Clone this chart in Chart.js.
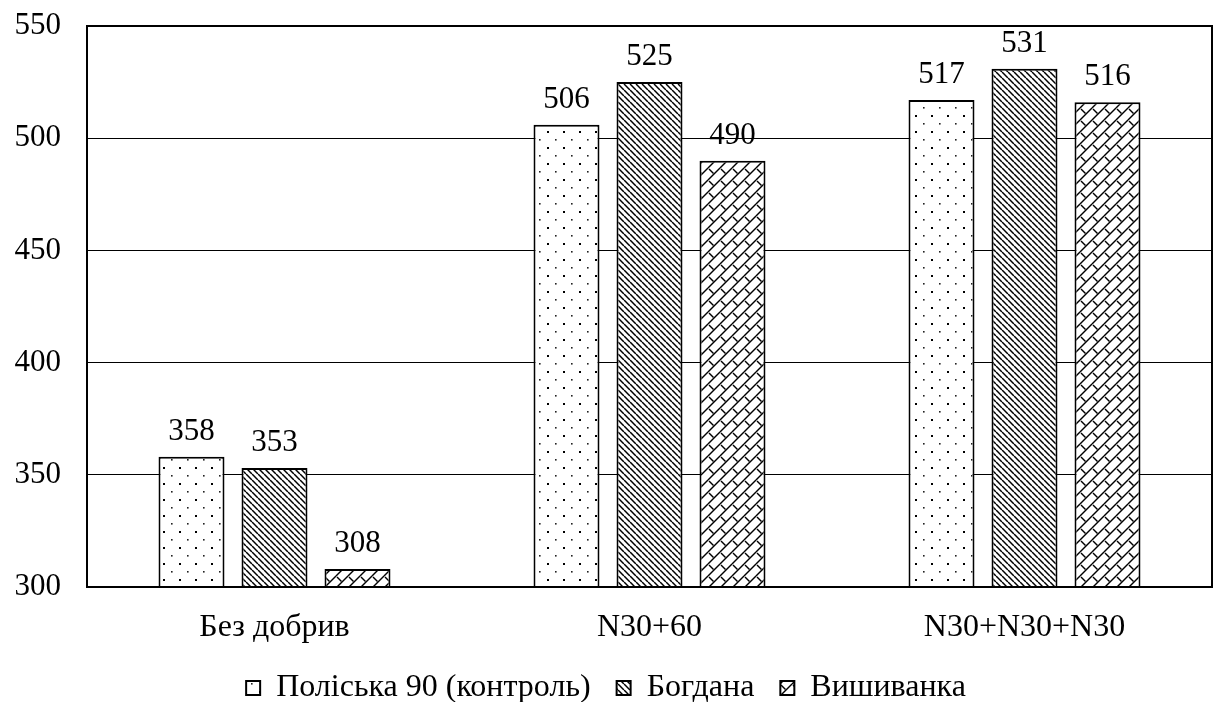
<!DOCTYPE html>
<html>
<head>
<meta charset="utf-8">
<script src="https://cdn.jsdelivr.net/npm/chart.js@4.4.1/dist/chart.umd.min.js"></script>
<style>
  html, body { margin: 0; padding: 0; background: #fff; }
  #wrap { width: 1214px; height: 702px; }
</style>
</head>
<body>
<div id="wrap"><canvas id="chart" width="1214" height="702"></canvas></div>
<script>
// Yield by fertiliser treatment for three varieties
const categories = ['Без добрив', 'N30+60', 'N30+N30+N30'];
const seriesNames = ['Поліська 90 (контроль)', 'Богдана', 'Вишиванка'];
const polisska90 = [358, 506, 517];
const bohdana = [353, 525, 531];
const vyshyvanka = [308, 490, 516];
const yTicks = [300, 350, 400, 450, 500, 550];

const FONT = "'Liberation Serif', 'Times New Roman', serif";
const NUM_SIZE = 31;
const TEXT_SIZE = 32;

// Hatch fills for the bars
function makePattern(size, paint) {
  const c = document.createElement('canvas');
  c.width = size; c.height = size;
  const g = c.getContext('2d');
  g.fillStyle = '#fff';
  g.fillRect(0, 0, size, size);
  paint(g, size);
  return c.getContext('2d').createPattern(c, 'repeat');
}

const ctx = document.getElementById('chart').getContext('2d');

const dotFill = makePattern(16, (g) => {
  g.fillStyle = '#000';
  g.fillRect(3, 3, 2, 2);
  g.fillStyle = '#222';
  g.fillRect(11, 11, 1.6, 1.6);
});

const stripeFill = makePattern(6, (g, s) => {
  g.strokeStyle = '#000';
  g.lineWidth = 1.5;
  for (const o of [-s, 0, s]) {
    g.beginPath();
    g.moveTo(o, 0);
    g.lineTo(o + s, s);
    g.stroke();
  }
});

const shingleFill = makePattern(12, (g, s) => {
  g.strokeStyle = '#000';
  g.lineWidth = 1.4;
  for (const dx of [-s, 0, s]) {
    for (const dy of [-s, 0, s]) {
      g.beginPath();
      g.moveTo(dx, dy + s);
      g.lineTo(dx + s, dy);
      g.stroke();
      g.beginPath();
      g.moveTo(dx + 1, dy + 1);
      g.lineTo(dx + s / 2 - 0.5, dy + s / 2 - 0.5);
      g.stroke();
    }
  }
});

// Value labels above each bar
const valueLabels = {
  id: 'valueLabels',
  afterDatasetsDraw(chart) {
    const c = chart.ctx;
    c.save();
    c.font = NUM_SIZE + 'px ' + FONT;
    c.fillStyle = '#000';
    c.textAlign = 'center';
    c.textBaseline = 'alphabetic';
    chart.data.datasets.forEach((ds, i) => {
      chart.getDatasetMeta(i).data.forEach((bar, j) => {
        c.fillText(String(ds.data[j]), bar.x, bar.y - 17);
      });
    });
    c.restore();
  }
};

// Frame around the plot area
const frame = {
  id: 'frame',
  afterDraw(chart) {
    const a = chart.chartArea;
    const c = chart.ctx;
    c.save();
    c.strokeStyle = '#000';
    c.lineWidth = 2;
    c.strokeRect(a.left, a.top, a.right - a.left, a.bottom - a.top);
    c.restore();
  }
};

new Chart(ctx, {
  type: 'bar',
  data: {
    labels: categories,
    datasets: [
      { label: seriesNames[0], data: polisska90, backgroundColor: dotFill },
      { label: seriesNames[1], data: bohdana, backgroundColor: stripeFill },
      { label: seriesNames[2], data: vyshyvanka, backgroundColor: shingleFill }
    ].map(d => Object.assign(d, {
      borderColor: '#000',
      borderWidth: 2,
      borderSkipped: false,
      categoryPercentage: 0.664,
      barPercentage: 0.795
    }))
  },
  options: {
    responsive: false,
    animation: false,
    devicePixelRatio: 1,
    layout: { padding: { top: 26, right: 2, left: 0, bottom: -12 } },
    scales: {
      x: {
        grid: { display: false, drawTicks: false },
        border: { display: true, color: '#000', width: 2 },
        ticks: { color: '#000', font: { family: FONT, size: TEXT_SIZE }, padding: 21, maxRotation: 0 },
        afterFit(scale) { scale.height = 59; }
      },
      y: {
        min: 300,
        max: 550,
        grid: { color: '#000', lineWidth: 1, drawTicks: true, tickLength: 26, tickColor: 'rgba(0,0,0,0)' },
        border: { display: true, color: '#000', width: 2 },
        afterBuildTicks(scale) { scale.ticks = yTicks.map(v => ({ value: v })); },
        ticks: { color: '#000', font: { family: FONT, size: NUM_SIZE }, padding: 0 },
        afterFit(scale) { scale.width = 87; }
      }
    },
    plugins: {
      legend: {
        position: 'bottom',
        labels: {
          color: '#000',
          font: { family: FONT, size: TEXT_SIZE },
          boxWidth: 14,
          boxHeight: 14,
          padding: 26
        }
      },
      tooltip: { enabled: false }
    }
  },
  plugins: [valueLabels, frame]
});
</script>
</body>
</html>
